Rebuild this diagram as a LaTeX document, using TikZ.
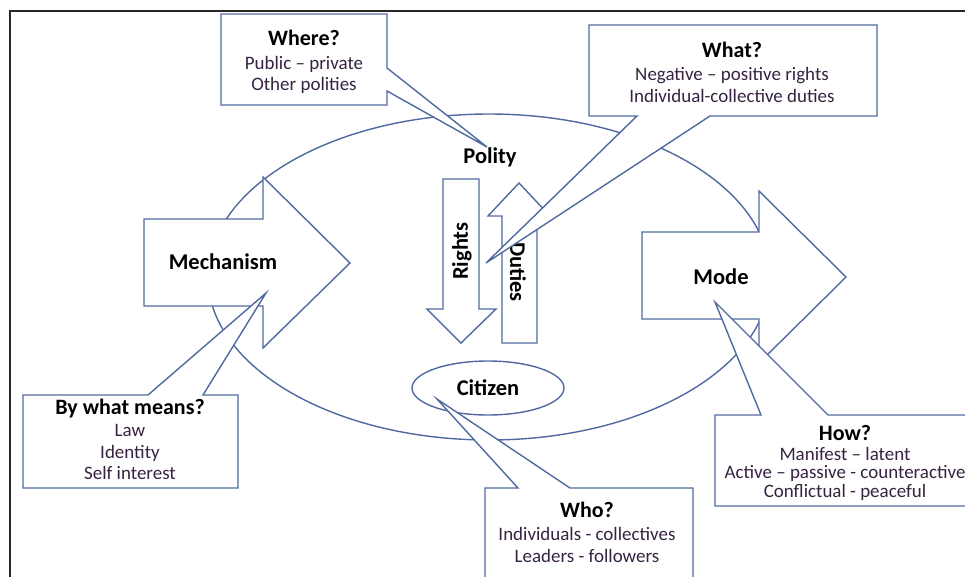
\documentclass[tikz,border=0pt]{standalone}
\usepackage{fontspec}
\setmainfont{Carlito}
\usetikzlibrary{shapes.geometric}
\definecolor{lineblue}{RGB}{80,106,160}
\definecolor{subtext}{RGB}{55,35,65}
\newcommand{\calltitle}[1]{{\fontsize{12.5}{15}\selectfont\bfseries\color{black}#1}}
\begin{document}
\begin{tikzpicture}[x=0.02cm,y=-0.02cm,
    shapeline/.style={draw=lineblue,line width=0.8pt,fill=white},
    biglabel/.style={font=\fontsize{12.8}{15}\selectfont\bfseries,inner sep=0pt},
    calltext/.style={align=center,font=\fontsize{10.8}{12}\selectfont,text=subtext,inner sep=0pt}]
\useasboundingbox (0,0) rectangle (965,576);
\clip (0,0) rectangle (965,576);
\draw[line width=1.1pt,black!85] (10,11) rectangle (990,600);
\draw[lineblue,line width=0.8pt] (489,277) ellipse [x radius=281,y radius=163];

\draw[shapeline] (144,219) -- (263,219) -- (263,177) -- (350,263) -- (263,348) -- (263,306) -- (144,306) -- cycle;
\draw[shapeline] (642,232) -- (759,232) -- (759,191) -- (846,277) -- (759,363) -- (759,319) -- (642,319) -- cycle;
\draw[shapeline] (443,179) -- (479,179) -- (479,309) -- (496,309) -- (461,343) -- (427,309) -- (443,309) -- cycle;
\draw[shapeline] (502,343) -- (502,216) -- (488,216) -- (519,183) -- (550,216) -- (537,216) -- (537,343) -- cycle;
\node[biglabel] (mechanism) at (223,262) {Mechanism};
\node[biglabel] (mode) at (721,277) {Mode};
\node[biglabel] (polity) at (490,157) {Polity};
\node[biglabel,rotate=90] (rights) at (462,251) {Rights};
\node[biglabel,rotate=-90] (duties) at (518,272) {Duties};
\node[biglabel,ellipse,draw=lineblue,line width=0.8pt,minimum width=3.04cm,minimum height=1.08cm] (citizen) at (488,388) {Citizen};

\draw[shapeline] (221,14) -- (387,14) -- (387,68) -- (487,147) -- (387,91) -- (387,105) -- (221,105) -- cycle;
\draw[shapeline] (589,25) -- (877,25) -- (877,116) -- (710,116) -- (486,263) -- (637,116) -- (589,116) -- cycle;
\draw[shapeline] (23,395) -- (148,395) -- (266,293) -- (203,395) -- (238,395) -- (238,488) -- (23,488) -- cycle;
\draw[shapeline] (715,415) -- (761,415) -- (715,302) -- (828,415) -- (980,415) -- (980,506) -- (715,506) -- cycle;
\draw[shapeline] (485,488) -- (518,488) -- (437,399) -- (570,488) -- (693,488) -- (693,600) -- (485,600) -- cycle;

\node[calltext] (where) at (304,62) {\calltitle{Where?}\\[1.5pt] Public – private\\ Other polities};
\node[calltext] (what) at (732,72) {\calltitle{What?}\\[1.5pt] Negative – positive rights\\ Individual-collective duties};
\node[calltext] (means) at (130,439) {\calltitle{By what means?}\\[1pt] Law\\ Identity\\ Self interest};
\node[calltext,font=\fontsize{10.8}{10.8}\selectfont] (how) at (845,463) {\calltitle{How?}\\[0.5pt] Manifest – latent\\ Active – passive - counteractive\\ Conflictual - peaceful};
\node[calltext] (who) at (587,532) {\calltitle{Who?}\\[1.5pt] Individuals - collectives\\ Leaders - followers};
\end{tikzpicture}
\end{document}
